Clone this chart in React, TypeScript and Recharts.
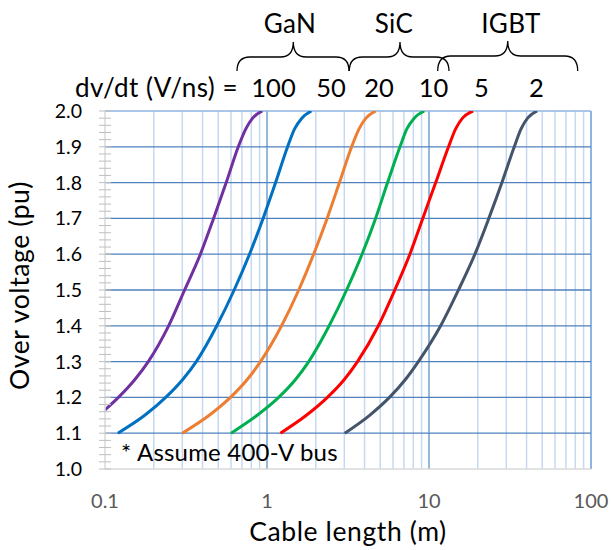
import React from 'react';
import { LineChart, Line, XAxis, YAxis, CartesianGrid } from 'recharts';

const FONT = 'Lato, "Open Sans", sans-serif';

// Over-voltage levels (pu) and cable lengths (m), per dv/dt (V/ns)
const s100Y = [1.165, 1.2, 1.25, 1.3, 1.4, 1.5, 1.6, 1.7, 1.8, 1.9, 1.95, 1.98, 2.0];
const s100X = [0.1, 0.121, 0.153, 0.185, 0.247, 0.31, 0.388, 0.468, 0.56, 0.665, 0.74, 0.815, 0.935];

const s50Y = [1.1, 1.15, 1.2, 1.25, 1.3, 1.4, 1.5, 1.6, 1.7, 1.8, 1.9, 1.95, 1.98, 2.0];
const s50X = [0.12, 0.176, 0.237, 0.302, 0.366, 0.49, 0.627, 0.78, 0.946, 1.13, 1.34, 1.48, 1.64, 1.88];

const s20Y = [1.1, 1.15, 1.2, 1.25, 1.3, 1.4, 1.5, 1.6, 1.7, 1.8, 1.9, 1.95, 1.98, 2.0];
const s20X = [0.3, 0.44, 0.595, 0.755, 0.912, 1.23, 1.57, 1.94, 2.35, 2.8, 3.33, 3.7, 4.08, 4.7];

const s10Y = [1.1, 1.15, 1.2, 1.25, 1.3, 1.4, 1.5, 1.6, 1.7, 1.8, 1.9, 1.95, 1.98, 2.0];
const s10X = [0.6, 0.87, 1.18, 1.5, 1.81, 2.42, 3.1, 3.86, 4.68, 5.55, 6.62, 7.3, 8.1, 9.35];

const s5Y = [1.1, 1.15, 1.2, 1.25, 1.3, 1.4, 1.5, 1.6, 1.7, 1.8, 1.9, 1.95, 1.98, 2.0];
const s5X = [1.21, 1.75, 2.36, 3.0, 3.62, 4.87, 6.15, 7.62, 9.15, 11.0, 13.2, 14.6, 16.1, 18.7];

const s2Y = [1.1, 1.15, 1.2, 1.25, 1.3, 1.4, 1.5, 1.6, 1.7, 1.8, 1.9, 1.95, 1.98, 2.0];
const s2X = [3.02, 4.3, 5.7, 7.15, 8.6, 11.8, 15.2, 19.2, 23.4, 28.2, 33.6, 37, 40.6, 46.5];

const xTicks = [0.1, 1, 10, 100];
const yTicks = [
  1.0, 1.02, 1.04, 1.06, 1.08, 1.1, 1.12, 1.14, 1.16, 1.18,
  1.2, 1.22, 1.24, 1.26, 1.28, 1.3, 1.32, 1.34, 1.36, 1.38,
  1.4, 1.42, 1.44, 1.46, 1.48, 1.5, 1.52, 1.54, 1.56, 1.58,
  1.6, 1.62, 1.64, 1.66, 1.68, 1.7, 1.72, 1.74, 1.76, 1.78,
  1.8, 1.82, 1.84, 1.86, 1.88, 1.9, 1.92, 1.94, 1.96, 1.98, 2.0,
];
const xMinorGrid = [0.2, 0.3, 0.4, 0.5, 0.6, 0.7, 0.8, 0.9, 2, 3, 4, 5, 6, 7, 8, 9, 20, 30, 40, 50, 60, 70, 80, 90];
const xMajorGrid = [1, 10];
const xEdgeGrid = [100];
const yGrid = [1.1, 1.2, 1.3, 1.4, 1.5, 1.6, 1.7, 1.8, 1.9];
const yTopGrid = [2.0];

const dvdtLabels = ['100', '50', '20', '10', '5', '2'];
const groupLabels = ['GaN', 'SiC', 'IGBT'];

const toData = (xs: number[], ys: number[]) => xs.map((x, i) => ({ x, y: ys[i] }));

const series = [
  { key: '100', data: toData(s100X, s100Y), color: '#7030a0' },
  { key: '50', data: toData(s50X, s50Y), color: '#0070c0' },
  { key: '20', data: toData(s20X, s20Y), color: '#ed7d31' },
  { key: '10', data: toData(s10X, s10Y), color: '#00b050' },
  { key: '5', data: toData(s5X, s5Y), color: '#ff0000' },
  { key: '2', data: toData(s2X, s2Y), color: '#44546a' },
];

const YTick = (props: any) => {
  const { x, y, payload } = props;
  const v = payload.value as number;
  const major = Math.abs(v * 10 - Math.round(v * 10)) < 1e-6;
  return (
    <g>
      <line x1={x - 6} x2={x + 6} y1={y} y2={y} stroke="#bfbfbf" strokeWidth={1} />
      {major && (
        <text x={x - 23} y={y + 7} textAnchor="end" fontFamily={FONT} fontSize={19.5} fill="#000">
          {v.toFixed(1)}
        </text>
      )}
    </g>
  );
};

const XTick = (props: any) => {
  const { x, y, payload } = props;
  return (
    <text x={x} y={y + 39} textAnchor="middle" fontFamily={FONT} fontSize={20} fill="#595959">
      {String(payload.value)}
    </text>
  );
};

const Brace = ({ x0, x1, xc, ym, y1, yp }: { x0: number; x1: number; xc: number; ym: number; y1: number; yp: number }) => {
  const r = 13;
  const d = `M${x0},${y1} Q${x0},${ym} ${x0 + r},${ym} L${xc - r},${ym} Q${xc},${ym} ${xc},${yp} Q${xc},${ym} ${xc + r},${ym} L${x1 - r},${ym} Q${x1},${ym} ${x1},${y1}`;
  return <path d={d} fill="none" stroke="#000" strokeWidth={1.3} />;
};

export default function App() {
  const groupX = [290, 394, 511];
  const dvdtX = [273.5, 331, 379, 433.5, 481.5, 536.5];
  return (
    <div style={{ position: 'absolute', left: 0, top: 0, width: 611, height: 550, background: '#fff' }}>
      <LineChart width={611} height={550} margin={{ top: 111, right: 20, bottom: 41, left: 0 }}>
        <CartesianGrid horizontal={false} vertical verticalValues={xMinorGrid} stroke="#c6d9f1" strokeWidth={1.5} />
        <CartesianGrid horizontal={false} vertical verticalValues={xMajorGrid} stroke="#2e75b6" strokeWidth={1} />
        <CartesianGrid horizontal={false} vertical verticalValues={xEdgeGrid} stroke="#8eb4e3" strokeWidth={2} />
        <CartesianGrid vertical={false} horizontal horizontalValues={yGrid} stroke="#4f81bd" strokeWidth={1.3} />
        <CartesianGrid vertical={false} horizontal horizontalValues={yTopGrid} stroke="#8eb4e3" strokeWidth={1.5} />
        <XAxis
          type="number"
          dataKey="x"
          scale="log"
          domain={[0.1, 100]}
          allowDataOverflow
          ticks={xTicks}
          interval={0}
          height={40}
          tickLine={false}
          tickSize={0}
          tickMargin={0}
          axisLine={{ stroke: '#d9d9d9', strokeWidth: 1.5 }}
          tick={<XTick />}
        />
        <YAxis
          type="number"
          dataKey="y"
          domain={[1, 2]}
          allowDataOverflow
          ticks={yTicks}
          interval={0}
          width={105}
          tickLine={false}
          tickSize={0}
          tickMargin={0}
          axisLine={{ stroke: '#d9d9d9', strokeWidth: 1.5 }}
          tick={<YTick />}
        />
        {series.map((s) => (
          <Line
            key={s.key}
            data={s.data}
            dataKey="y"
            type="monotone"
            stroke={s.color}
            strokeWidth={3}
            dot={false}
            activeDot={false}
            isAnimationActive={false}
          />
        ))}
      </LineChart>
      <svg width={611} height={550} style={{ position: 'absolute', left: 0, top: 0, pointerEvents: 'none' }}>
        <g fontFamily={FONT} fill="#000">
          {groupLabels.map((g, i) => (
            <text key={g} x={groupX[i]} y={33} fontSize={26} letterSpacing={0.4} textAnchor="middle">{g}</text>
          ))}
          <text x={75} y={97} fontSize={26} letterSpacing={0.5}>dv/dt (V/ns) =</text>
          {dvdtLabels.map((l, i) => (
            <text key={l} x={dvdtX[i]} y={97} fontSize={25.5} textAnchor="middle">{l}</text>
          ))}
          <text x={121} y={461} fontSize={24} letterSpacing={0.2}>* Assume 400-V bus</text>
          <text x={348} y={541} fontSize={26.5} letterSpacing={0.6} textAnchor="middle">Cable length (m)</text>
          <text x={0} y={0} fontSize={26.5} letterSpacing={0.6} textAnchor="middle" transform="translate(29,285.5) rotate(-90)">Over voltage (pu)</text>
        </g>
        <Brace x0={237} x1={349} xc={293.3} ym={57} y1={71} yp={42} />
        <Brace x0={349.3} x1={449} xc={400} ym={57} y1={71} yp={42} />
        <Brace x0={437.7} x1={577.7} xc={507.7} ym={56} y1={71} yp={41} />
      </svg>
    </div>
  );
}
